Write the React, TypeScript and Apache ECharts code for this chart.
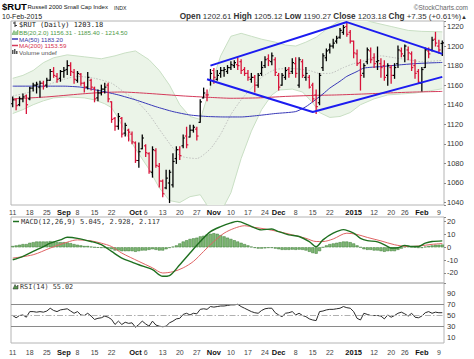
import React, { useEffect, useRef } from "react";
import * as echarts from "echarts";

const FONT = "'Liberation Sans', Arial, sans-serif";
const MONO = "'DejaVu Sans Mono', monospace";

// trading days per month
const monthDays: [string, number[]][] = [
  ["2014-08", [11, 12, 13, 14, 15, 18, 19, 20, 21, 22, 25, 26, 27, 28, 29]],
  ["2014-09", [2, 3, 4, 5, 8, 9, 10, 11, 12, 15, 16, 17, 18, 19, 22, 23, 24, 25, 26, 29, 30]],
  ["2014-10", [1, 2, 3, 6, 7, 8, 9, 10, 13, 14, 15, 16, 17, 20, 21, 22, 23, 24, 27, 28, 29, 30, 31]],
  ["2014-11", [3, 4, 5, 6, 7, 10, 11, 12, 13, 14, 17, 18, 19, 20, 21, 24, 25, 26, 28]],
  ["2014-12", [1, 2, 3, 4, 5, 8, 9, 10, 11, 12, 15, 16, 17, 18, 19, 22, 23, 24, 26, 29, 30, 31]],
  ["2015-01", [2, 5, 6, 7, 8, 9, 12, 13, 14, 15, 16, 20, 21, 22, 23, 26, 27, 28, 29, 30]],
  ["2015-02", [2, 3, 4, 5, 6, 9, 10]],
];

const xTicks: [string, string, boolean][] = [
  ["2014-08-11", "11", false], ["2014-08-18", "18", false], ["2014-08-25", "25", false],
  ["2014-09-02", "Sep", true], ["2014-09-08", "8", false], ["2014-09-15", "15", false], ["2014-09-22", "22", false],
  ["2014-10-01", "Oct", true], ["2014-10-06", "6", false], ["2014-10-13", "13", false], ["2014-10-20", "20", false], ["2014-10-27", "27", false],
  ["2014-11-03", "Nov", true], ["2014-11-10", "10", false], ["2014-11-17", "17", false], ["2014-11-24", "24", false],
  ["2014-12-01", "Dec", true], ["2014-12-08", "8", false], ["2014-12-15", "15", false], ["2014-12-22", "22", false],
  ["2015-01-02", "2015", true], ["2015-01-12", "12", false], ["2015-01-20", "20", false], ["2015-01-26", "26", false],
  ["2015-02-02", "Feb", true], ["2015-02-09", "9", false],
];

// open, high, low, close
const ohlc: number[][] = [
  [1141, 1148, 1138, 1145], [1145, 1146, 1135, 1139], [1140, 1148, 1139, 1146], [1146, 1151, 1143, 1148], [1149, 1150, 1131, 1140],
  [1146, 1158, 1145, 1157], [1157, 1162, 1154, 1160], [1160, 1163, 1152, 1161], [1158, 1164, 1148, 1162], [1162, 1164, 1156, 1159],
  [1160, 1167, 1158, 1165], [1165, 1176, 1165, 1174], [1174, 1178, 1168, 1170], [1169, 1172, 1163, 1166], [1167, 1175, 1164, 1174],
  [1174, 1178, 1168, 1175], [1176, 1185, 1171, 1180], [1180, 1183, 1170, 1174], [1173, 1176, 1162, 1166], [1165, 1174, 1163, 1172],
  [1171, 1172, 1160, 1162], [1162, 1163, 1153, 1158], [1158, 1173, 1156, 1168], [1165, 1166, 1155, 1158], [1157, 1158, 1143, 1146],
  [1147, 1155, 1144, 1152], [1152, 1160, 1150, 1156], [1156, 1162, 1152, 1158], [1160, 1162, 1143, 1146], [1143, 1143, 1122, 1125],
  [1126, 1127, 1114, 1118], [1118, 1131, 1115, 1128], [1126, 1127, 1107, 1110], [1111, 1121, 1108, 1119], [1114, 1115, 1103, 1112],
  [1110, 1112, 1100, 1102], [1101, 1102, 1081, 1083], [1083, 1101, 1076, 1092], [1095, 1109, 1095, 1106], [1098, 1099, 1087, 1091],
  [1090, 1091, 1070, 1072], [1071, 1097, 1066, 1094], [1093, 1095, 1076, 1078], [1077, 1080, 1056, 1062], [1062, 1063, 1046, 1049],
  [1055, 1073, 1054, 1065], [1060, 1073, 1040, 1071], [1058, 1090, 1056, 1082], [1085, 1097, 1080, 1094], [1094, 1097, 1084, 1088],
  [1098, 1109, 1096, 1106], [1108, 1117, 1096, 1099], [1107, 1119, 1107, 1114], [1114, 1119, 1112, 1117], [1115, 1117, 1104, 1108],
  [1122, 1145, 1122, 1143], [1147, 1157, 1147, 1152], [1150, 1155, 1144, 1150], [1165, 1176, 1160, 1172], [1175, 1177, 1162, 1168],
  [1166, 1175, 1165, 1170], [1172, 1178, 1168, 1175], [1175, 1178, 1169, 1176], [1174, 1180, 1172, 1178], [1178, 1184, 1176, 1181],
  [1180, 1185, 1178, 1183], [1181, 1188, 1176, 1180], [1184, 1186, 1172, 1175], [1176, 1178, 1170, 1172], [1172, 1175, 1165, 1168],
  [1166, 1172, 1163, 1168], [1168, 1170, 1153, 1160], [1160, 1172, 1158, 1170], [1172, 1184, 1170, 1178], [1180, 1189, 1178, 1186],
  [1187, 1191, 1180, 1185], [1184, 1193, 1181, 1190], [1186, 1188, 1170, 1173], [1170, 1172, 1155, 1158], [1160, 1172, 1160, 1170],
  [1168, 1178, 1166, 1175], [1176, 1178, 1168, 1172], [1174, 1187, 1172, 1183], [1182, 1188, 1168, 1172], [1160, 1188, 1158, 1186],
  [1184, 1186, 1168, 1170], [1168, 1178, 1165, 1172], [1168, 1170, 1157, 1158], [1160, 1162, 1143, 1146], [1150, 1155, 1131, 1138],
  [1142, 1172, 1140, 1170], [1178, 1192, 1175, 1190], [1188, 1197, 1185, 1195], [1196, 1202, 1193, 1200], [1200, 1207, 1198, 1203],
  [1205, 1210, 1203, 1208], [1209, 1218, 1208, 1216], [1214, 1221, 1212, 1219], [1220, 1224, 1210, 1212], [1214, 1216, 1203, 1205],
  [1205, 1205, 1188, 1193], [1192, 1196, 1180, 1182], [1183, 1186, 1155, 1170], [1172, 1182, 1168, 1180], [1184, 1198, 1182, 1196],
  [1195, 1198, 1183, 1186], [1188, 1192, 1178, 1182], [1184, 1199, 1176, 1185], [1182, 1187, 1168, 1178], [1180, 1185, 1165, 1168],
  [1170, 1182, 1160, 1180], [1178, 1180, 1162, 1170], [1170, 1182, 1167, 1178], [1182, 1200, 1178, 1196], [1195, 1198, 1189, 1192],
  [1190, 1201, 1184, 1200], [1196, 1199, 1186, 1193], [1192, 1194, 1175, 1178], [1180, 1186, 1167, 1172], [1174, 1176, 1162, 1163],
  [1162, 1178, 1154, 1176], [1178, 1198, 1178, 1196], [1195, 1198, 1188, 1192], [1196, 1209, 1195, 1206], [1207, 1214, 1200, 1203],
  [1200, 1206, 1193, 1196], [1202.61, 1205.12, 1190.27, 1203.18],
];

// Bollinger bands (index, value)
const bbUpper: number[][] = [
  [0, 1167], [3, 1170], [6, 1175], [9, 1183], [12, 1188], [16, 1191], [21, 1189], [26, 1187], [30, 1190], [33, 1193], [36, 1195],
  [40, 1186], [43, 1175], [46, 1160], [49, 1140], [52, 1128], [55, 1125], [58, 1158], [61, 1190], [64, 1210], [67, 1213], [70, 1210],
  [73, 1207], [77, 1204], [80, 1201], [83, 1200], [86, 1204], [89, 1209], [92, 1217], [95, 1224], [98, 1228], [102, 1228], [106, 1224],
  [111, 1220], [116, 1216], [120, 1215], [126, 1214.5],
];
const bbLower: number[][] = [
  [0, 1131], [3, 1135], [6, 1140], [9, 1144], [12, 1147], [16, 1148], [21, 1147], [24, 1145], [27, 1141], [29, 1137], [31, 1126],
  [33, 1112], [36, 1095], [40, 1074], [43, 1055], [46, 1042], [49, 1040], [52, 1046], [55, 1048], [58, 1032], [61, 1030], [64, 1050],
  [67, 1085], [70, 1113], [73, 1135], [76, 1150], [78, 1155], [82, 1156], [85, 1153], [88, 1142], [90, 1132], [93, 1127], [96, 1128],
  [99, 1132], [102, 1140], [106, 1146], [110, 1150], [114, 1151], [118, 1152], [122, 1154], [126, 1156.3],
];
const bbMid: number[][] = [
  [0, 1149], [5, 1153], [10, 1160], [15, 1166], [19, 1169], [24, 1167], [29, 1162], [33, 1152], [36, 1145], [40, 1130], [44, 1110],
  [49, 1088], [54, 1085], [58, 1095], [61, 1110], [64, 1130], [67, 1145], [70, 1157], [73, 1168], [77, 1176], [82, 1177], [87, 1175],
  [90, 1172], [93, 1172], [97, 1178], [100, 1182], [104, 1186], [108, 1190], [112, 1188], [116, 1186], [120, 1184], [126, 1185.4],
];
const ma50: number[][] = [
  [0, 1159], [5, 1159], [10, 1159], [15, 1159], [20, 1158], [23, 1156], [26, 1154], [31, 1150], [36, 1145], [42, 1138], [47, 1133],
  [52, 1129.5], [57, 1128], [62, 1127.5], [67, 1127.5], [72, 1129], [77, 1131], [83, 1133], [86, 1138], [88, 1143], [91, 1151],
  [93, 1157], [96, 1164], [98, 1169], [101, 1174], [103, 1177.5], [108, 1179], [113, 1180.6], [118, 1182], [122, 1182.7], [126, 1183.2],
];
const ma200: number[][] = [
  [0, 1146], [10, 1148], [20, 1151], [26, 1152.5], [32, 1153], [40, 1151.5], [50, 1149], [58, 1147.5], [64, 1146.6], [72, 1147],
  [80, 1148.5], [88, 1149.5], [95, 1150], [103, 1151], [110, 1152], [118, 1153], [126, 1153.6],
];
// hand-drawn trend lines (index, value)
const trendUpper: number[][] = [[58, 1180], [98, 1224.5], [126, 1192]];
const trendLower: number[][] = [[57, 1166], [88, 1132.5], [126, 1168.5]];

// MACD(12,26,9)
const macdLine: number[][] = [
  [0, -9.7], [3, -7], [6, -3.2], [9, 0.5], [11, 3.2], [14, 5.8], [16, 7.8], [19, 7], [23, 4.5], [26, 2], [29, -3.2], [32, -8.4],
  [35, -11.5], [37, -13.6], [41, -17.4], [44, -22.6], [46, -22], [49, -13.6], [52, -4.5], [55, 4.5], [58, 12.2], [61, 16.1],
  [64, 19], [66, 20.2], [69, 17.4], [73, 13.6], [76, 14.3], [78, 12.2], [81, 9.7], [84, 8.4], [87, 4.5], [89, 0.5], [91, 5.8],
  [94, 11], [97, 13.8], [100, 11], [102, 7], [104, 5.2], [107, 4.2], [110, 0.6], [111, -0.6], [113, -0.3], [115, 1.5], [117, 0.6],
  [119, 0.6], [121, 3.2], [123, 4.5], [126, 5.045],
];
const macdSignal: number[][] = [
  [0, -8.4], [6, -5.8], [11, -0.6], [16, 4], [19, 5.8], [23, 5], [26, 3.2], [29, 0.6], [32, -4.5], [37, -11], [41, -16], [44, -20],
  [47, -19], [50, -16], [53, -11], [56, -3.2], [59, 4.5], [62, 11], [65, 14.8], [68, 16.8], [71, 15.5], [74, 14.3], [78, 12.2],
  [82, 9.7], [86, 7], [89, 4.5], [91, 4.5], [94, 6.5], [98, 11], [101, 10], [104, 7.7], [108, 5], [112, 2], [116, 0.6], [119, 1],
  [123, 2.3], [126, 2.928],
];
const macdHist: number[] = [
  1, 1.5, 2, 2.5, 2.5, 3.5, 4, 4.5, 4.5, 4.5, 4.5, 4.8, 4.5, 4, 4, 4, 3.8, 3.2, 2.5, 2, 1.5, 1, 1, 0.5, 0, -0.3, -0.5, -0.5, -1, -1.5,
  -2.5, -2.5, -3, -3, -3, -3, -3.5, -3, -2.5, -2.5, -2, -1.5, -2, -2.5, -2.5, -1.5, -0.5, 0.5, 1.5, 3, 4.5, 5.5, 6.5, 7, 7.5, 8.5,
  9, 10, 10.5, 11, 10.5, 9.5, 8.5, 7.5, 6.5, 5.5, 4.5, 3.5, 2.5, 1.5, 0.5, -0.5, -1, -1, -0.8, -0.5, -0.5, -1, -1.5, -2, -2, -2,
  -1.8, -2, -1.8, -2, -2.5, -3.5, -4.5, -5, -3, 0, 1.5, 2.5, 3, 3.5, 4, 4.5, 4.5, 4, 3, 1.5, 0, -1.5, -2, -2, -2.5, -2.5, -3, -3.5,
  -3, -3, -3, -2, -1, 0.5, 1, 0.5, 0, -0.5, -0.5, 0.5, 1, 1.5, 2, 2, 2.117,
];

// RSI(14)
const rsi: number[] = [
  50, 46, 50, 51, 47, 57, 57, 56, 57, 56, 58, 63, 59, 57, 60, 61, 62, 58, 54, 57, 51, 50, 54, 49, 43, 45, 46, 49, 47, 43,
  34, 40, 34, 38, 36, 37, 29, 34, 40, 35, 31, 40, 33, 31, 30, 31, 37, 40, 44, 45, 52, 54, 51, 54, 53, 61, 62, 61, 66, 65,
  66, 67, 67, 68, 69, 69, 70, 66, 63, 60, 57, 55, 54, 59, 62, 63, 63, 55, 51, 48, 54, 55, 57, 51, 54, 50, 48, 44, 42, 41,
  57, 58, 60, 61, 61, 62, 63, 66, 64, 63, 57, 45, 42, 54, 52, 50, 50, 50, 49, 44, 51, 47, 50, 54, 56, 53, 49, 54, 47, 46,
  49, 55, 57, 54, 56, 55, 55.02,
];

const categories: string[] = monthDays.flatMap(([m, ds]) => ds.map((d) => `${m}-${String(d).padStart(2, "0")}`));
const tickMap = new Map<number, [string, boolean]>();
xTicks.forEach(([d, t, b]) => tickMap.set(categories.indexOf(d), [t, b]));

const RED = "#d8143a";

function xAxisFor(grid: number, showLabels: boolean, margin: number) {
  return {
    type: "category",
    gridIndex: grid,
    data: categories,
    boundaryGap: true,
    axisLine: { show: false },
    axisTick: { show: false },
    splitLine: { show: false },
    axisLabel: {
      show: showLabels,
      margin,
      interval: (i: number) => tickMap.has(i),
      formatter: (_v: string, i: number) => {
        const t = tickMap.get(i);
        if (!t) return "";
        return t[1] ? `{b|${t[0]}}` : `{n|${t[0]}}`;
      },
      rich: {
        b: { fontFamily: FONT, fontWeight: "bold", fontSize: 7.5, color: "#111" },
        n: { fontFamily: FONT, fontSize: 7, color: "#444" },
      },
    },
  };
}

function yAxisFor(grid: number, min: number, max: number, splitNumber: number, step: number, offset: number, ticks: boolean) {
  return {
    type: "value",
    gridIndex: grid,
    position: "right",
    min,
    max,
    splitNumber,
    axisLine: { show: false },
    axisTick: { show: ticks, length: 2, lineStyle: { color: "#888" } },
    splitLine: { show: false },
    axisLabel: {
      margin: 3,
      fontFamily: FONT,
      fontSize: 7.5,
      color: "#333",
      formatter: (v: number) => {
        const r = ((v - offset) % step + step) % step;
        return Math.abs(r) < 1e-6 || Math.abs(r - step) < 1e-6 ? String(Math.round(v)) : "";
      },
    },
  };
}

function textEl(x: number, y: number, text: string, size: number, fill: string, opts: any = {}) {
  return {
    type: "text",
    x,
    y,
    silent: true,
    style: {
      text,
      fontSize: size,
      fontFamily: opts.family || FONT,
      fontWeight: opts.weight || "normal",
      fill,
      align: opts.align || "left",
      verticalAlign: "middle",
      rich: opts.rich,
    },
  };
}

function buildOption(): any {
  const barData = ohlc.map((d, i) => [i, d[0], d[1], d[2], d[3], i === 0 || d[3] >= ohlc[i - 1][3] ? 1 : 0]);
  const lineS = (data: number[][], color: string, width: number, extra: any = {}) => ({
    type: "line",
    xAxisIndex: 0,
    yAxisIndex: 0,
    data,
    showSymbol: false,
    symbol: "none",
    silent: true,
    lineStyle: { color, width, ...(extra.lineStyle || {}) },
    z: extra.z || 3,
    smooth: extra.smooth ?? 0.2,
    clip: true,
  });

  return {
    animation: false,
    backgroundColor: "#fff",
    grid: [
      { left: 11, right: 30, top: 21, height: 184, show: true, borderColor: "#b4b4b4", borderWidth: 1 },
      { left: 11, right: 30, top: 217, height: 66, show: true, borderColor: "#b4b4b4", borderWidth: 1 },
      { left: 11, right: 30, top: 283, height: 60, show: true, borderColor: "#b4b4b4", borderWidth: 1 },
    ],
    xAxis: [xAxisFor(0, true, 3.5), xAxisFor(1, false, 3), xAxisFor(2, true, 5.5)],
    yAxis: [
      yAxisFor(0, 1037.5, 1225.6, 10, 20, 0, true),
      yAxisFor(1, -27.8, 23.6, 5, 10, 0, true),
      yAxisFor(2, 1, 108, 10, 20, 10, false),
    ],
    series: [
      {
        type: "custom",
        xAxisIndex: 0,
        yAxisIndex: 0,
        data: [[0, 1100]],
        silent: true,
        clip: true,
        z: 1,
        renderItem: (_p: any, api: any) => {
          const pts = bbUpper.map((p) => api.coord(p)).concat(bbLower.slice().reverse().map((p) => api.coord(p)));
          return { type: "polygon", shape: { points: pts }, style: { fill: "#ebf4e8", stroke: "none" } };
        },
      },
      lineS(bbUpper, "#c9dfc4", 1, { z: 2, smooth: 0 }),
      lineS(bbLower, "#c9dfc4", 1, { z: 2, smooth: 0 }),
      lineS(bbMid, "#b5b5b5", 0.8, { z: 2, lineStyle: { type: [1.5, 1.5] } }),
      lineS(ma200, "#d43a5a", 1, { z: 3 }),
      lineS(ma50, "#3838b8", 1, { z: 3 }),
      {
        type: "custom",
        xAxisIndex: 0,
        yAxisIndex: 0,
        data: barData,
        encode: { x: 0, y: [1, 2, 3, 4] },
        silent: true,
        clip: true,
        z: 5,
        renderItem: (_p: any, api: any) => {
          const i = api.value(0);
          const pO = api.coord([i, api.value(1)]);
          const pH = api.coord([i, api.value(2)]);
          const pL = api.coord([i, api.value(3)]);
          const pC = api.coord([i, api.value(4)]);
          const color = api.value(5) ? "#000" : RED;
          const w = 1.7;
          return {
            type: "group",
            children: [
              { type: "line", shape: { x1: pH[0], y1: pH[1] - 0.5, x2: pL[0], y2: pL[1] + 0.5 }, style: { stroke: color, lineWidth: 1.3 } },
              { type: "line", shape: { x1: pO[0] - w, y1: pO[1], x2: pO[0], y2: pO[1] }, style: { stroke: color, lineWidth: 1.2 } },
              { type: "line", shape: { x1: pC[0], y1: pC[1], x2: pC[0] + w, y2: pC[1] }, style: { stroke: color, lineWidth: 1.2 } },
            ],
          };
        },
      },
      lineS(trendUpper, "#1c1cf0", 2, { z: 6, smooth: 0 }),
      lineS(trendLower, "#1c1cf0", 2, { z: 6, smooth: 0 }),
      {
        type: "bar",
        xAxisIndex: 1,
        yAxisIndex: 1,
        data: macdHist,
        barCategoryGap: "10%",
        silent: true,
        itemStyle: { color: "#7fb874", borderColor: "#3b7a34", borderWidth: 0.5 },
        z: 2,
      },
      {
        type: "line",
        xAxisIndex: 1,
        yAxisIndex: 1,
        data: macdSignal,
        showSymbol: false,
        symbol: "none",
        silent: true,
        smooth: 0.3,
        lineStyle: { color: "#e06464", width: 1 },
        z: 3,
      },
      {
        type: "line",
        xAxisIndex: 1,
        yAxisIndex: 1,
        data: macdLine,
        showSymbol: false,
        symbol: "none",
        silent: true,
        smooth: 0.3,
        lineStyle: { color: "#1f7020", width: 1.4 },
        z: 4,
      },
      {
        type: "line",
        xAxisIndex: 2,
        yAxisIndex: 2,
        data: rsi,
        showSymbol: false,
        symbol: "none",
        silent: true,
        lineStyle: { color: "#2a2a2a", width: 1 },
        z: 4,
        markLine: {
          silent: true,
          symbol: "none",
          label: { show: false },
          data: [
            { yAxis: 70, lineStyle: { color: "#8a8a8a", type: "solid", width: 1 } },
            { yAxis: 30, lineStyle: { color: "#8a8a8a", type: "solid", width: 1 } },
            { yAxis: 50, lineStyle: { color: "#b0b0b0", type: [6, 2, 1.5, 2], width: 1 } },
          ],
        },
      },
    ],
    graphic: [
      textEl(2, 6.5, "$RUT", 9.5, "#000", { weight: "bold" }),
      textEl(27.5, 7, "Russell 2000 Small Cap Index", 6, "#111"),
      textEl(114, 7.5, "INDX", 5.2, "#222"),
      textEl(468, 7, "\u00A9StockCharts.com", 6.5, "#666", { align: "right" }),
      textEl(2, 16.5, "10-Feb-2015", 7, "#222"),
      textEl(467, 16.5, "{b|Open} 1202.61 {b|High} 1205.12 {b|Low} 1190.27 {b|Close} 1203.18 {b|Chg} +7.35 (+0.61%){g|\u25B2}", 7.9, "#333", {
        align: "right",
        rich: {
          b: { fontFamily: FONT, fontWeight: "bold", fontSize: 8.2, color: "#000" },
          g: { fontFamily: FONT, fontSize: 6, color: "#2a9a2a" },
        },
      }),
      // legend icons main panel
      { type: "line", silent: true, shape: { x1: 15, y1: 21.5, x2: 15, y2: 27 }, style: { stroke: "#333", lineWidth: 1 } },
      { type: "line", silent: true, shape: { x1: 13, y1: 23, x2: 15, y2: 23 }, style: { stroke: "#333", lineWidth: 1 } },
      { type: "line", silent: true, shape: { x1: 15, y1: 25.5, x2: 17, y2: 25.5 }, style: { stroke: "#333", lineWidth: 1 } },
      textEl(19, 24.5, "$RUT (Daily) 1203.18", 7, "#222", { family: MONO }),
      { type: "polygon", silent: true, shape: { points: [[12, 34.5], [14, 30.5], [16, 32.5], [18, 30], [18, 34.5]] }, style: { fill: "#9ccc94", stroke: "#5e9e56", lineWidth: 0.5 } },
      textEl(19, 32.5, "BB(20,2.0) 1156.31 - 1185.40 - 1214.50", 6.2, "#4e9a48"),
      { type: "line", silent: true, shape: { x1: 12, y1: 39, x2: 18, y2: 39 }, style: { stroke: "#3838b8", lineWidth: 1.5 } },
      textEl(19, 39, "MA(50) 1183.20", 6.2, "#3535a5"),
      { type: "line", silent: true, shape: { x1: 12, y1: 45.5, x2: 18, y2: 45.5 }, style: { stroke: "#d43a5a", lineWidth: 1.5 } },
      textEl(19, 45.5, "MA(200) 1153.59", 6.2, "#d4304e"),
      { type: "rect", silent: true, shape: { x: 12, y: 50, width: 1.5, height: 4 }, style: { fill: "#555" } },
      { type: "rect", silent: true, shape: { x: 14, y: 49, width: 1.5, height: 5 }, style: { fill: "#555" } },
      { type: "rect", silent: true, shape: { x: 16, y: 51, width: 1.5, height: 3 }, style: { fill: "#555" } },
      textEl(19, 52, "Volume undef", 6.2, "#555"),
      // MACD legend
      { type: "line", silent: true, shape: { x1: 13, y1: 221.5, x2: 19, y2: 221.5 }, style: { stroke: "#1f7020", lineWidth: 1.5 } },
      textEl(21, 221.5, "{t|MACD(12,26,9)} {a|5.045}{t|,} {r|2.928}{t|,} {c|2.117}", 7, "#333", {
        family: MONO,
        rich: {
          t: { fontFamily: MONO, fontSize: 7, color: "#333" },
          a: { fontFamily: MONO, fontSize: 7, color: "#2a7a2a" },
          r: { fontFamily: MONO, fontSize: 7, color: "#d84848" },
          c: { fontFamily: MONO, fontSize: 7, color: "#5aa84e" },
        },
      }),
      // RSI legend
      { type: "polygon", silent: true, shape: { points: [[13, 289], [15, 284.5], [16.5, 287], [18, 285], [18, 289]] }, style: { fill: "#5a9a50", stroke: "#222", lineWidth: 0.5 } },
      textEl(20, 287, "RSI(14) 55.02", 6.8, "#333", { family: MONO }),
    ],
  };
}

export default function App() {
  const ref = useRef<HTMLDivElement>(null);
  useEffect(() => {
    if (!ref.current) return;
    const chart = echarts.init(ref.current, null, { renderer: "svg" });
    chart.setOption(buildOption());
    return () => chart.dispose();
  }, []);
  return (
    <div
      ref={ref}
      style={{ position: "fixed", left: 0, top: 0, width: 474, height: 359, background: "#fff" }}
    />
  );
}
